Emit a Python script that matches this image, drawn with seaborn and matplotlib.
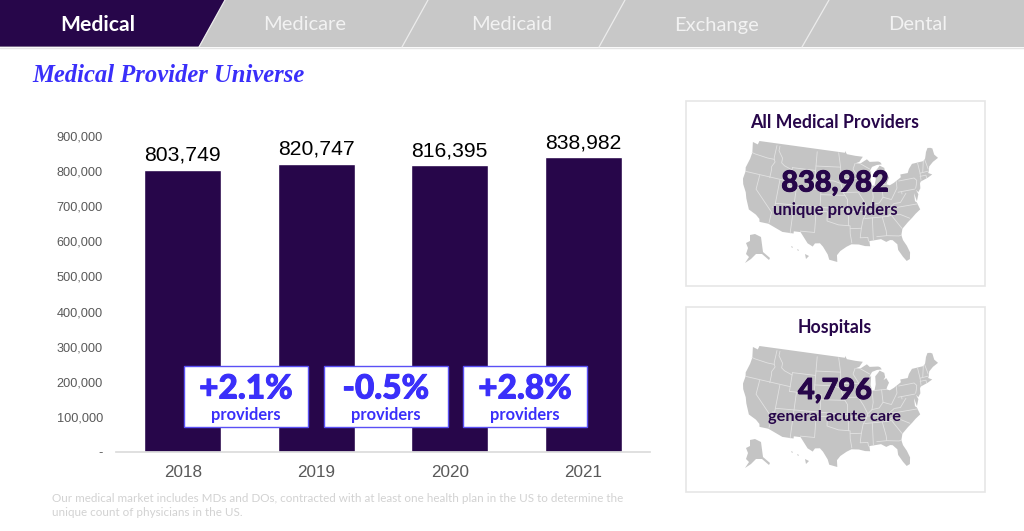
import numpy as np
import pandas as pd
import matplotlib
matplotlib.use('Agg')
import matplotlib.pyplot as plt
import matplotlib.patheffects as pe
from matplotlib.patches import Polygon, Rectangle
import seaborn as sns

# chart values
years = ['2018', '2019', '2020', '2021']
providers = [803749, 820747, 816395, 838982]
value_labels = ['803,749', '820,747', '816,395', '838,982']
changes = ['+2.1%', '-0.5%', '+2.8%']
ytick_values = [0, 100000, 200000, 300000, 400000, 500000, 600000, 700000, 800000, 900000]
ytick_labels = ['-', '100,000', '200,000', '300,000', '400,000', '500,000', '600,000', '700,000', '800,000', '900,000']
tabs = ['Medical', 'Medicare', 'Medicaid', 'Exchange', 'Dental']

PURPLE = '#27064a'
BLUE = '#3a2ffa'
TAB_GRAY = '#c8c8c8'
MAP_GRAY = '#c4c4c4'
TICK_GRAY = '#595959'

W, H = 1024, 531

# rough lon/lat outline of the lower 48, used for the background maps
us_outline = [(-124.7,48.4),(-123.0,48.2),(-122.8,49.0),(-95.2,49.0),(-95.15,49.4),(-94.6,48.7),(-92.0,48.3),(-89.6,48.0),
    (-90.8,46.95),(-92.0,46.7),(-90.5,46.6),(-88.4,47.4),(-87.6,46.8),(-85.0,46.7),(-84.4,46.5),(-84.0,46.0),(-85.5,46.0),
    (-87.0,45.7),(-87.6,45.1),(-88.0,44.5),(-87.4,44.9),(-87.8,43.0),(-87.5,41.7),(-86.8,41.8),(-86.3,43.0),(-86.2,44.7),
    (-85.2,45.4),(-84.7,45.8),(-83.4,45.2),(-83.3,44.3),(-83.9,43.7),(-83.0,44.05),(-82.4,43.0),(-83.1,42.2),(-83.4,41.7),
    (-82.5,41.4),(-81.2,41.8),(-79.0,42.7),(-79.0,43.3),(-76.8,43.3),(-76.2,44.1),(-75.0,45.0),(-71.5,45.0),(-70.8,45.4),
    (-70.3,46.2),(-70.0,46.7),(-69.2,47.45),(-68.3,47.3),(-67.8,47.05),(-67.8,45.7),(-67.0,44.8),(-68.8,44.3),(-70.2,43.6),
    (-70.7,42.7),(-71.0,42.3),(-70.0,41.8),(-71.4,41.4),(-73.7,40.95),(-74.0,40.6),(-74.2,39.6),(-75.0,38.9),(-75.5,39.5),
    (-75.1,38.5),(-75.9,37.1),(-76.2,38.9),(-76.4,37.2),(-76.0,36.9),(-75.5,35.3),(-76.9,34.6),(-78.0,33.9),(-79.2,33.2),
    (-80.9,32.0),(-81.4,30.7),(-81.2,29.6),(-80.5,28.3),(-80.0,26.8),(-80.3,25.4),(-81.1,25.1),(-81.8,26.1),(-82.7,27.7),
    (-82.7,28.9),(-83.7,29.9),(-84.3,30.0),(-85.3,29.7),(-86.5,30.4),(-88.0,30.3),(-89.4,30.2),(-89.3,29.1),(-90.5,29.2),
    (-92.0,29.6),(-93.8,29.7),(-95.0,29.2),(-96.5,28.3),(-97.3,27.4),(-97.2,25.95),(-99.1,26.4),(-99.5,27.5),(-100.7,29.1),
    (-101.5,29.8),(-102.7,29.7),(-103.2,29.0),(-104.5,29.6),(-106.5,31.8),(-108.2,31.8),(-108.2,31.33),(-111.0,31.33),
    (-114.8,32.5),(-117.1,32.5),(-117.3,33.1),(-118.4,33.8),(-120.5,34.5),(-121.9,36.6),(-122.5,37.8),(-123.8,39.3),
    (-124.3,40.4),(-124.2,42.0),(-124.5,42.8),(-124.0,44.8),(-123.9,46.2)]

state_lines = [
    [(-124,46.2),(-122.9,46.1),(-119,45.95),(-116.9,46.0)],
    [(-117.03,49),(-117.04,46.4),(-116.9,45.95),(-116.5,45.5),(-117.2,44.4),(-117.03,43.8),(-117.03,42)],
    [(-124.2,42),(-111.05,42)],
    [(-120,42),(-120,39),(-114.6,35),(-114.7,32.7)],
    [(-114.05,42),(-114.05,36.2),(-114.7,36.1)],
    [(-114.05,37),(-94.6,37)],
    [(-109.05,41),(-109.05,31.33)],
    [(-111.05,41),(-102.05,41)],
    [(-111.05,45),(-111.05,41)],
    [(-111.05,45),(-104.05,45),(-104.05,41)],
    [(-116.05,49),(-116.05,48),(-114.5,46.6),(-114.5,45.6),(-113.5,45.1),(-111.05,44.5)],
    [(-104.05,49),(-104.05,45)],
    [(-104.05,45.94),(-96.56,45.94)],
    [(-104.05,43),(-98.5,43),(-96.5,42.5)],
    [(-102.05,41),(-102.05,37)],
    [(-102.05,40),(-95.3,40)],
    [(-103,37),(-103,32),(-106.6,32)],
    [(-103,36.5),(-100,36.5),(-100,34.56),(-97,33.8),(-94.05,33.6),(-94.05,31.9),(-93.7,30)],
    [(-97.2,49),(-96.56,45.9),(-96.45,43.5),(-91.2,43.5)],
    [(-95.8,40.6),(-91.7,40.6)],
    [(-96.45,42.5),(-95.8,40.6),(-95.3,40),(-94.6,39.1),(-94.6,36.5),(-90.1,36.5),(-89.7,36)],
    [(-94.6,36.5),(-94.45,35.4),(-94.45,33.6)],
    [(-94.05,33),(-91.2,33)],
    [(-92.1,46.7),(-92.8,45.5),(-91.2,43.5),(-91.4,40.4),(-90.2,38.8),(-89.2,37),(-89.7,36),(-90.6,34.9),(-91.2,33),(-91.6,31),(-89.7,31),(-89.6,30.2)],
    [(-90.6,42.5),(-87.8,42.5)],
    [(-90.4,46.5),(-87.8,45.3)],
    [(-87.5,41.7),(-87.5,39.3),(-88,37.8)],
    [(-84.8,41.7),(-84.8,39.1)],
    [(-87,41.75),(-83.4,41.7)],
    [(-89.2,37),(-88,37.8),(-86,38),(-84.8,39.1),(-82.6,38.4),(-80.6,40.6),(-80.5,42)],
    [(-89.4,36.5),(-81.7,36.6),(-75.9,36.55)],
    [(-88.2,35),(-88.4,30.3)],
    [(-90.2,35),(-84.3,35),(-82,36.1)],
    [(-85.6,35),(-85,32),(-85,31)],
    [(-87.5,31),(-85,31),(-82,30.6),(-81.5,30.7)],
    [(-83.1,35),(-81,32.1)],
    [(-84.3,35),(-82.5,35.2),(-81,35.1),(-78.6,33.9)],
    [(-81.9,37.5),(-80.3,37.5),(-78.4,39.2)],
    [(-82,37.5),(-83.7,36.6)],
    [(-80.5,39.7),(-75.8,39.7)],
    [(-79.8,42),(-75.3,42),(-74.7,41.4),(-75.1,40.5),(-75.5,39.8)],
    [(-73.5,41.2),(-73.3,42.7),(-73.3,45)],
    [(-73.3,42.7),(-71,42.7)],
    [(-73.5,42.05),(-71.8,42),(-71.8,41.4)],
    [(-71.5,45),(-72.5,42.7)],
    [(-71,45.3),(-70.7,43.1)],
    [(-79.5,39.7),(-79.5,39.2)],
]

# alaska and hawaii, in pixels relative to the top left of the map
alaska_shape = [(7,94),(12,93),(18,96),(20,111),(27,117),(26,119),(19,113),(13,113),(8,118),(2,122),(6,116),(3,113),(5,107),(3,102),(7,100)]
hawaii_shapes = [[(62,113),(66,115),(63,118)], [(54,108),(56,109),(55,110)], [(48,105),(50,106),(49,107)]]


def albers(lon, lat):
    # conic projection, close enough for a backdrop
    lon, lat = np.radians(lon), np.radians(lat)
    p1, p2, lon0, lat0 = np.radians(29.5), np.radians(45.5), np.radians(-96), np.radians(37.5)
    n = (np.sin(p1) + np.sin(p2)) / 2
    c = np.cos(p1) ** 2 + 2 * n * np.sin(p1)
    rho = np.sqrt(c - 2 * n * np.sin(lat)) / n
    rho0 = np.sqrt(c - 2 * n * np.sin(lat0)) / n
    theta = n * (lon - lon0)
    return rho * np.sin(theta), rho0 - rho * np.cos(theta)


outline = np.array(us_outline)
ox, oy = albers(outline[:, 0], outline[:, 1])
scale_x = 195 / (ox.max() - ox.min())
scale_y = 121 / (oy.max() - oy.min())


def to_pixels(pts, x0, y0):
    pts = np.array(pts)
    px, py = albers(pts[:, 0], pts[:, 1])
    return np.column_stack([x0 + (px - ox.min()) * scale_x, y0 + (oy.max() - py) * scale_y])


def draw_map(ax, x0, y0):
    ax.add_patch(Polygon(to_pixels(us_outline, x0, y0), closed=True, fc=MAP_GRAY, ec='none', zorder=2))
    for line in state_lines:
        xy = to_pixels(line, x0, y0)
        ax.plot(xy[:, 0], xy[:, 1], color='#e2e2e2', lw=0.6, zorder=3)
    ax.add_patch(Polygon(np.array(alaska_shape) + [x0, y0], closed=True, fc=MAP_GRAY, ec='none', zorder=2))
    for shape in hawaii_shapes:
        ax.add_patch(Polygon(np.array(shape) + [x0, y0], closed=True, fc=MAP_GRAY, ec='none', zorder=2))


sns.set_theme(style='white')
plt.rcParams['font.family'] = ['Liberation Sans', 'DejaVu Sans']

fig = plt.figure(figsize=(W / 100, H / 100), dpi=100)

# bar chart
ax = fig.add_axes([116 / W, 1 - 452 / H, (650 - 116) / W, (452 - 136) / H])
df = pd.DataFrame({'year': years, 'providers': providers})
sns.barplot(data=df, x='year', y='providers', color=PURPLE, saturation=1, width=0.58, ax=ax)
ax.set_ylim(0, 900000)
ax.set_xlabel('')
ax.set_ylabel('')
ax.set_yticks(ytick_values)
ax.set_yticklabels(ytick_labels, fontsize=9.2, color=TICK_GRAY)
ax.tick_params(axis='y', length=0, pad=9.5)
ax.tick_params(axis='x', length=0, pad=9.5, labelsize=12.3, labelcolor=TICK_GRAY)
for s in ['top', 'left', 'right']:
    ax.spines[s].set_visible(False)
ax.spines['bottom'].set_color('#dcdcdc')
for i, label in enumerate(value_labels):
    ax.annotate(label, (i, providers[i]), xytext=(0, 3.5), textcoords='offset points',
                ha='center', va='bottom', fontsize=15.2, color='black')

# everything else is drawn in pixel coordinates on top
over = fig.add_axes([0, 0, 1, 1], facecolor='none')
over.set_xlim(0, W)
over.set_ylim(H, 0)
over.axis('off')

# tabs
divider_top = [225, 428, 625, 829]
divider_bottom = [199, 402, 599, 802]
tab_centers = [98, 305, 512, 717, 918]
over.add_patch(Rectangle((0, 0), W, 47, fc=TAB_GRAY, ec='none'))
over.add_patch(Polygon([(0, 0), (divider_top[0], 0), (divider_bottom[0], 46.5), (0, 46.5)], fc=PURPLE, ec='none'))
over.plot([0, W], [47.5, 47.5], color='#e4e4e4', lw=1)
for t, b in zip(divider_top, divider_bottom):
    over.plot([t, b], [0, 47], color='#ececec', lw=0.9)
for i, name in enumerate(tabs):
    over.text(tab_centers[i], 25, name, ha='center', va='center', family='Lato',
              fontsize=15.2 if i == 0 else 14.5,
              fontweight='bold' if i == 0 else 'normal', color='white' if i == 0 else '#f2f2f2')

over.text(32, 75.5, 'Medical Provider Universe', ha='left', va='center', family='Liberation Serif',
          style='italic', fontweight='bold', fontsize=17.7, color=BLUE)

# change callouts, the strokes thicken the heavy figures
heavy_blue = [pe.withStroke(linewidth=0.7, foreground=BLUE)]
heavy_purple = [pe.withStroke(linewidth=0.7, foreground=PURPLE)]
box_lefts = [184, 324, 463]
for left, change in zip(box_lefts, changes):
    over.add_patch(Rectangle((left, 366), 124, 61, fc='white', ec='#5a50f5', lw=1, zorder=5))
    over.text(left + 62, 389, change, ha='center', va='center', family='Lato', fontweight='black',
              fontsize=24, color=BLUE, zorder=6, path_effects=heavy_blue)
    over.text(left + 62, 415, 'providers', ha='center', va='center', family='Lato', fontweight='bold',
              fontsize=11.9, color=BLUE, zorder=6)

# map panels
panels = [(101, 'All Medical Providers', '838,982', 'unique providers', 0, 12),
          (307, 'Hospitals', '4,796', 'general acute care', 205, 11.8)]
for top, title, number, caption, shift, caption_size in panels:
    over.add_patch(Rectangle((686, top), 299, 185, fc='white', ec='#e6e6e6', lw=1.2, zorder=1))
    draw_map(over, 743, 141 + shift)
    over.text(835, top + 21, title, ha='center', va='center', family='Lato', fontweight='bold',
              fontsize=12.8, color=PURPLE, zorder=6)
    over.text(835, 183.5 + shift + (2.5 if shift else 0), number, ha='center', va='center', family='Lato', fontweight='black',
              fontsize=20.8, color=PURPLE, zorder=6, path_effects=heavy_purple)
    over.text(835, 210.5 + shift + (2 if shift else 0), caption, ha='center', va='center', family='Lato', fontweight='bold',
              fontsize=caption_size, color=PURPLE, zorder=6)

# footnote
over.text(52, 499, 'Our medical market includes MDs and DOs, contracted with at least one health plan in the US to determine the',
          ha='left', va='center', family='Lato', fontsize=8.4, color='#d2d2d2')
over.text(52, 513, 'unique count of physicians in the US.', ha='left', va='center', family='Lato', fontsize=8.4, color='#d2d2d2')

fig.savefig('out.png', dpi=100)
